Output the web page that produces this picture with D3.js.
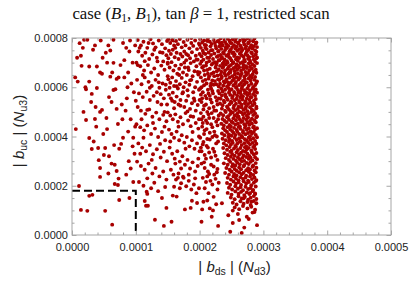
<!DOCTYPE html>
<html>
<head>
<meta charset="utf-8">
<script src="https://cdn.jsdelivr.net/npm/d3@7"></script>
<style>
body{margin:0;background:#fff;}
text{font-family:"Liberation Sans",Arial,sans-serif;}
</style>
</head>
<body>
<svg id="chart" width="416" height="286"></svg>
<script>
// scan points, in units of 1e-6 : flat list of |b_ds|, |b_uc| pairs
let unit = 1e-6;

let sparseLeft = [9,623, 14,728, 12,779, 19,793, 24,793, 15,687, 27,684, 21,600, 22,592, 27,623, 22,467, 27,394, 31,349, 33,752, 39,684, 31,573, 39,597, 44,660, 47,655, 41,353, 42,304, 44,272, 36,471, 44,500, 47,508, 54,475, 52,353, 50,325, 14,102, 24,98, 27,159, 32,163, 52,98, 63,42, 74,142, 90,150, 11,199, 44,236, 67,207, 73,229, 72,203, 70,260, 67,285, 66,365, 74,350, 72,451, 70,512, 65,589, 68,592, 70,634, 73,640, 60,643, 63,660, 65,699, 53,740, 60,749, 65,793, 5,640, 8,720, 17,760, 36,770, 45,790, 48,720, 55,700, 57,770, 80,780, 85,760, 90,745, 95,700, 88,660, 82,640, 93,615, 97,580, 86,555, 78,530, 84,505, 92,470, 99,440, 88,420, 80,395, 77,370, 95,360, 98,330, 89,300, 92,270, 85,245, 96,215, 58,560, 62,540, 55,430, 49,410, 38,440, 34,380, 58,320, 62,290, 57,250, 30,540, 37,520, 18,500, 6,430, 82,710, 76,690, 91,790, 99,770, 87,600, 79,470, 96,395];

let midLeft = [103,792, 108,770, 112,785, 118,760, 123,795, 127,778, 131,762, 136,790, 141,775, 146,758, 149,788, 104,745, 110,728, 115,740, 121,715, 126,733, 133,720, 138,742, 143,705, 148,730, 101,700, 107,685, 113,668, 119,690, 124,660, 129,676, 135,650, 140,688, 145,671, 150,645, 102,630, 109,612, 114,640, 120,622, 125,605, 131,630, 137,598, 142,615, 147,590, 105,575, 111,560, 117,582, 122,548, 128,565, 134,540, 139,572, 144,555, 149,530, 103,520, 108,505, 115,492, 121,510, 126,480, 132,497, 137,470, 143,488, 148,462, 101,450, 107,438, 113,425, 118,445, 124,410, 130,432, 135,398, 141,418, 146,385, 104,372, 110,355, 116,340, 122,365, 127,328, 133,348, 139,315, 144,338, 149,300, 102,298, 108,280, 114,265, 120,290, 126,250, 131,272, 137,238, 143,258, 148,225, 105,215, 112,200, 118,230, 124,190, 129,212, 135,178, 141,150, 146,195, 117,176, 118,167, 114,138, 116,119, 119,119, 144,37, 130,62, 148,110, 106,760, 134,705, 122,598, 140,530, 109,470, 127,455, 145,440, 112,395, 138,370, 125,305, 100,545, 147,610, 133,580, 118,508, 129,752, 142,740, 111,650, 136,620, 103,690, 150,700, 120,780, 114,706, 145,500, 107,330];

let midRight = [151,795, 154,780, 157,792, 160,770, 163,788, 166,775, 169,796, 172,762, 175,784, 178,770, 181,793, 184,758, 187,780, 190,768, 193,790, 196,755, 199,778, 152,748, 155,735, 158,752, 161,722, 164,740, 167,715, 170,735, 173,725, 176,745, 179,710, 182,730, 185,718, 188,742, 191,705, 194,728, 197,712, 200,735, 150,695, 153,680, 156,702, 159,668, 162,688, 165,655, 168,675, 171,692, 174,660, 177,680, 180,650, 183,670, 186,698, 189,645, 192,665, 195,685, 198,652, 151,632, 154,618, 157,640, 160,605, 163,625, 166,595, 169,612, 172,638, 175,600, 178,620, 181,588, 184,610, 187,630, 190,580, 193,600, 196,622, 199,590, 152,570, 155,555, 158,578, 161,540, 164,562, 167,530, 170,548, 173,575, 176,520, 179,545, 182,565, 185,512, 188,535, 191,555, 194,505, 197,528, 200,548, 150,498, 154,485, 158,470, 162,490, 166,460, 170,478, 174,450, 178,495, 182,465, 186,442, 190,480, 194,455, 198,432, 152,428, 156,410, 160,395, 164,420, 168,385, 172,405, 176,375, 180,398, 184,360, 188,385, 192,350, 196,372, 200,340, 153,355, 157,330, 161,310, 165,340, 169,298, 173,320, 177,285, 181,305, 185,270, 189,295, 193,258, 197,280, 155,265, 159,245, 163,225, 167,250, 171,210, 175,232, 179,198, 183,220, 187,185, 191,205, 195,170, 199,190, 177,104, 186,110, 156,54, 196,130, 188,139, 164,156, 158,160, 160,196, 169,190, 174,237, 166,232, 151,718, 162,760, 179,735, 195,712, 168,650, 185,628, 153,598, 174,580, 192,545, 160,515, 181,502, 199,470, 167,440, 189,418, 154,380, 178,350, 198,310, 183,245, 171,270, 193,230, 162,290, 159,790, 187,800, 176,700, 197,662, 164,604, 182,680, 157,545, 170,525, 186,482, 199,400];

let denseEdge = [201,795, 204,782, 207,790, 210,771, 213,798, 216,785, 219,776, 222,792, 225,768, 228,787, 202,760, 205,748, 208,772, 211,755, 214,741, 217,766, 220,750, 223,737, 226,758, 229,745, 203,726, 206,712, 209,735, 212,720, 215,706, 218,731, 221,715, 224,702, 227,724, 230,710, 200,772, 212,788, 224,780, 206,739, 218,750, 229,727, 203,705, 215,720, 227,700, 209,760,
  201,695, 204,680, 207,668, 210,688, 213,655, 216,675, 219,692, 222,660, 225,680, 228,648, 202,640, 205,625, 208,650, 211,615, 214,635, 217,605, 220,628, 223,645, 226,612, 229,632, 203,600, 206,685, 209,630, 212,670, 215,645, 218,615, 221,698, 224,625, 227,665, 230,603, 200,660, 211,700, 222,610, 207,608, 219,655, 226,690,
  201,595, 205,580, 209,565, 213,590, 217,550, 221,575, 225,560, 229,585, 203,540, 207,525, 211,555, 215,515, 219,538, 223,505, 227,545, 202,570, 206,510, 210,530, 214,575, 218,595, 222,520, 226,505, 230,555, 204,555, 212,500, 220,585, 228,530, 216,565,
  202,495, 206,480, 210,465, 214,490, 218,450, 222,475, 226,460, 230,485, 204,440, 208,425, 212,455, 216,415, 220,438, 224,405, 228,445, 203,470, 207,410, 211,430, 215,475, 219,495, 223,420, 227,400, 229,470, 205,455,
  201,395, 206,378, 211,362, 216,388, 221,350, 226,372, 203,340, 208,325, 213,355, 218,315, 223,338, 228,305, 205,368, 210,310, 215,335, 220,398, 225,322, 229,380, 202,355, 212,390,
  203,290, 208,272, 213,258, 218,285, 223,245, 228,268, 205,232, 210,215, 215,248, 220,205, 225,228, 230,212, 207,295, 212,238, 217,220, 222,278, 227,255,
  208,190, 214,170, 222,155, 228,185, 212,140, 226,125];

let denseUpper = [230,788, 233,799, 235,781, 239,792, 240,784, 244,797, 247,789, 248,781, 252,795, 256,786, 257,799, 260,781, 263,790, 268,796, 269,784, 271,791, 275,799, 277,783, 280,792, 284,787, 286,798, 289,782,
  231,766, 232,778, 236,770, 241,762, 242,775, 245,768, 250,779, 251,763, 254,771, 258,765, 261,777, 264,769, 266,760, 270,774, 273,766, 276,778, 279,762, 281,771, 285,767, 288,776, 290,763,
  230,747, 234,756, 237,742, 240,751, 243,759, 247,746, 249,753, 253,741, 256,757, 259,748, 262,755, 265,743, 267,751, 272,758, 274,745, 277,752, 281,741, 283,757, 287,749, 289,744,
  233,731, 235,722, 238,737, 242,728, 245,734, 246,723, 251,739, 254,727, 255,733, 259,721, 263,736, 266,729, 269,724, 272,735, 275,730, 278,722, 282,738, 284,726, 288,733, 290,721,
  231,709, 234,717, 238,702, 239,713, 243,706, 248,718, 250,709, 253,701, 257,714, 260,707, 262,719, 267,702, 270,712, 271,705, 276,716, 279,708, 280,700, 285,713, 287,704, 289,718,
  232,687, 236,696, 237,683, 241,692, 244,699, 246,684, 249,690, 252,697, 256,682, 258,693, 261,687, 264,698, 268,681, 269,691, 273,685, 277,697, 279,683, 283,692, 286,686, 290,698,
  230,672, 234,663, 236,679, 240,668, 244,675, 247,661, 249,670, 253,677, 255,665, 259,672, 262,680, 265,667, 269,674, 272,662, 274,678, 278,669, 282,676, 285,664, 288,671,
  233,651, 235,643, 239,657, 241,647, 245,654, 248,660, 251,645, 255,652, 258,641, 260,657, 264,648, 266,655, 270,643, 273,650, 276,658, 279,646, 283,653, 287,642, 289,659,
  231,629, 234,637, 238,624, 242,632, 244,621, 247,639, 252,628, 254,635, 257,622, 261,631, 263,638, 268,626, 271,633, 272,621, 277,636, 280,627, 282,639, 286,630, 290,624,
  232,614, 237,606, 239,618, 243,603, 246,611, 249,619, 253,607, 256,615, 258,601, 262,609, 265,617, 267,604, 270,612, 274,619, 277,606, 281,614, 284,601, 287,609, 289,617,
  234,594, 236,583, 240,590, 245,597, 247,585, 250,592, 254,581, 257,598, 260,589, 264,583, 266,595, 270,588, 273,580, 275,596, 279,587, 283,594, 286,582, 288,591,
  231,575, 235,567, 240,572, 241,562, 246,578, 248,569, 252,564, 255,574, 259,566, 261,579, 265,570, 268,563, 271,576, 275,568, 278,575, 280,561, 284,572, 287,565, 290,578];

let denseLower = [233,553, 238,545, 242,558, 244,549, 249,541, 251,556, 255,547, 258,553, 262,544, 264,559, 267,550, 272,543, 274,555, 278,548, 281,559, 285,545, 288,552,
  232,534, 236,527, 239,539, 243,522, 247,531, 250,538, 254,525, 257,533, 261,521, 263,537, 266,529, 271,535, 273,523, 276,532, 280,538, 283,527, 286,534, 289,521,
  235,513, 240,505, 244,518, 246,509, 249,502, 253,516, 256,507, 260,513, 262,501, 266,518, 269,508, 272,514, 275,503, 279,519, 282,510, 285,504, 289,515,
  233,494, 237,486, 241,499, 245,482, 248,491, 252,497, 255,485, 259,493, 261,481, 265,498, 268,489, 271,495, 274,484, 277,492, 281,499, 284,487, 287,494, 290,482,
  236,471, 239,464, 243,478, 246,468, 250,461, 253,474, 257,466, 259,479, 263,470, 267,462, 269,475, 273,468, 276,477, 279,463, 282,472, 286,466, 289,478,
  234,452, 238,445, 242,458, 247,447, 249,441, 252,456, 256,449, 260,453, 263,442, 265,459, 270,450, 272,444, 275,457, 278,448, 282,453, 285,441, 288,458,
  237,433, 240,425, 244,438, 248,428, 251,422, 254,435, 258,427, 261,439, 264,431, 268,423, 271,436, 274,427, 277,433, 280,421, 284,437, 287,429, 290,434,
  235,412, 239,405, 243,418, 246,408, 250,403, 253,415, 256,406, 259,419, 262,410, 266,402, 268,416, 272,409, 276,414, 279,401, 282,411, 285,418, 288,406,
  236,391, 241,385, 245,398, 247,388, 251,382, 255,395, 258,386, 262,393, 264,381, 267,397, 271,389, 274,384, 277,396, 280,387, 284,393, 287,382, 290,397,
  238,372, 242,364, 246,378, 249,367, 252,374, 256,362, 259,371, 263,378, 266,365, 270,373, 273,361, 276,376, 279,368, 283,374, 286,363, 289,371,
  237,353, 243,346, 247,357, 250,342, 254,351, 257,358, 260,345, 264,353, 268,341, 271,356, 274,348, 277,354, 281,343, 284,357, 287,349,
  239,332, 244,325, 248,338, 251,329, 255,322, 258,336, 262,327, 265,334, 269,323, 272,338, 275,330, 278,321, 282,335, 285,327, 289,333,
  241,312, 246,305, 249,318, 253,309, 257,302, 260,315, 263,307, 267,313, 270,301, 273,317, 277,309, 280,314, 283,303, 287,316, 290,308,
  238,291, 244,285, 248,297, 252,288, 256,282, 259,294, 263,287, 266,299, 270,284, 274,293, 277,288, 280,297, 284,282, 288,292,
  242,272, 247,265, 251,278, 255,268, 258,261, 262,274, 265,267, 269,279, 273,263, 276,271, 279,266, 283,277, 286,262, 289,273,
  240,252, 246,245, 250,258, 254,248, 258,242, 262,255, 266,247, 269,253, 273,241, 277,257, 280,249, 284,244, 288,255,
  244,232, 249,225, 253,238, 257,229, 261,222, 264,235, 268,228, 272,233, 276,221, 279,238, 282,227, 286,234, 289,223,
  243,211, 248,204, 253,217, 257,208, 261,214, 265,203, 269,218, 273,209, 277,215, 281,202, 285,212, 288,219,
  246,192, 251,185, 256,198, 260,188, 264,194, 268,182, 272,196, 276,187, 280,191, 284,183, 288,197,
  244,171, 250,164, 256,177, 261,168, 265,175, 270,162, 274,173, 278,166, 283,178, 287,169,
  249,152, 255,145, 261,157, 266,148, 271,155, 276,143, 280,151, 285,158, 289,146,
  252,131, 258,124, 264,137, 269,127, 275,134, 280,122, 285,138, 289,129,
  255,112, 262,105, 268,118, 275,108, 281,115, 287,103];

let lowScatter = [252,99, 283,91, 286,93, 274,74, 277,65, 262,61, 252,49, 248,13, 266,8, 235,129, 229,37, 219,74, 216,108, 221,100, 206,135, 204,104, 203,54, 279,170, 287,166, 281,135, 269,149, 260,85, 245,80, 290,40, 270,30];

// bound of the restricted region
let boxX = 0.0001;
let boxY = 0.00018;

let xTickLabels = ["0.0000", "0.0001", "0.0002", "0.0003", "0.0004", "0.0005"];
let yTickLabels = ["0.0000", "0.0002", "0.0004", "0.0006", "0.0008"];

let m = {left: 72, right: 391, top: 38, bottom: 235};
let pointColor = "#a80000";
let frameColor = "#a6a6a6";

let toPairs = (arr) => {
  let out = [];
  for (let i = 0; i < arr.length; i += 2) out.push([arr[i] * unit, arr[i + 1] * unit]);
  return out;
};

let points = [].concat(
  toPairs(sparseLeft), toPairs(midLeft), toPairs(midRight),
  toPairs(denseEdge), toPairs(denseUpper), toPairs(denseLower), toPairs(lowScatter)
);

let svg = d3.select("#chart");

let xScale = d3.scaleLinear().domain([0, 0.0005]).range([m.left, m.right]);
let yScale = d3.scaleLinear().domain([0, 0.0008]).range([m.bottom, m.top]);

svg.append("clipPath")
   .attr("id", "plotClip")
   .append("rect")
   .attr("x", m.left)
   .attr("y", m.top)
   .attr("width", m.right - m.left)
   .attr("height", m.bottom - m.top);

svg.append("g")
   .attr("clip-path", "url(#plotClip)")
   .selectAll("circle")
   .data(points)
   .enter()
   .append("circle")
   .attr("cx", (d) => xScale(d[0]))
   .attr("cy", (d) => yScale(d[1]))
   .attr("r", 1.95)
   .attr("fill", pointColor);

// dashed box
let dash = d3.line().x((d) => xScale(d[0])).y((d) => yScale(d[1]));
svg.append("path")
   .attr("d", dash([[0, boxY], [boxX, boxY], [boxX, 0]]))
   .attr("fill", "none")
   .attr("stroke", "#000")
   .attr("stroke-width", 2)
   .attr("stroke-dasharray", "8,4");

// ticks
let xMajor = d3.range(0, 6).map((i) => i * 0.0001);
let xMinor = d3.range(0, 26).map((i) => i * 0.00002).filter((d, i) => i % 5 !== 0);
let yMajor = d3.range(0, 5).map((i) => i * 0.0002);
let yMinor = d3.range(0, 17).map((i) => i * 0.00005).filter((d, i) => i % 4 !== 0);

let styleAxis = (g) => {
  g.select(".domain").remove();
  g.selectAll("line").attr("stroke", frameColor);
  g.selectAll("text").attr("fill", "#222").style("font-size", "11px");
};

let addAxis = (axisFn, scale, ticks, size, labels, pad, transform) => {
  let ax = axisFn(scale).tickValues(ticks).tickSizeInner(-size).tickSizeOuter(0).tickPadding(pad)
    .tickFormat(labels ? (d, i) => labels[i] : "");
  svg.append("g").attr("transform", transform).call(ax).call(styleAxis);
};

addAxis(d3.axisBottom, xScale, xMajor, 4.5, xTickLabels, 8, `translate(0,${m.bottom})`);
addAxis(d3.axisBottom, xScale, xMinor, 2.5, null, 0, `translate(0,${m.bottom})`);
addAxis(d3.axisTop, xScale, xMajor, 4.5, null, 0, `translate(0,${m.top})`);
addAxis(d3.axisTop, xScale, xMinor, 2.5, null, 0, `translate(0,${m.top})`);
addAxis(d3.axisLeft, yScale, yMajor, 4.5, yTickLabels, 4, `translate(${m.left},0)`);
addAxis(d3.axisLeft, yScale, yMinor, 2.5, null, 0, `translate(${m.left},0)`);
addAxis(d3.axisRight, yScale, yMajor, 4.5, null, 0, `translate(${m.right},0)`);
addAxis(d3.axisRight, yScale, yMinor, 2.5, null, 0, `translate(${m.right},0)`);

svg.append("rect")
   .attr("x", m.left)
   .attr("y", m.top)
   .attr("width", m.right - m.left)
   .attr("height", m.bottom - m.top)
   .attr("fill", "none")
   .attr("stroke", frameColor)
   .attr("stroke-width", 1);

// axis titles
let xTitle = svg.append("text")
   .attr("x", (m.left + m.right) / 2 + 3)
   .attr("y", 272)
   .attr("text-anchor", "middle")
   .style("font-size", "15px")
   .attr("fill", "#222");
xTitle.append("tspan").text("| ");
xTitle.append("tspan").style("font-style", "italic").text("b");
xTitle.append("tspan").attr("dy", 3).style("font-size", "10.5px").text("ds");
xTitle.append("tspan").attr("dy", -3).text(" | (");
xTitle.append("tspan").style("font-style", "italic").text("N");
xTitle.append("tspan").attr("dy", 3).style("font-size", "10.5px").text("d3");
xTitle.append("tspan").attr("dy", -3).text(")");

let yTitle = svg.append("text")
   .attr("transform", "translate(24,131) rotate(-90)")
   .attr("text-anchor", "middle")
   .style("font-size", "15px")
   .attr("fill", "#222");
yTitle.append("tspan").text("| ");
yTitle.append("tspan").style("font-style", "italic").text("b");
yTitle.append("tspan").attr("dy", 3).style("font-size", "10.5px").text("uc");
yTitle.append("tspan").attr("dy", -3).text(" | (");
yTitle.append("tspan").style("font-style", "italic").text("N");
yTitle.append("tspan").attr("dy", 3).style("font-size", "10.5px").text("u3");
yTitle.append("tspan").attr("dy", -3).text(")");

// title
let title = svg.append("text")
   .attr("x", 201)
   .attr("y", 19)
   .attr("text-anchor", "middle")
   .style("font-family", "'Liberation Serif', 'DejaVu Serif', serif")
   .style("font-size", "16.8px")
   .attr("fill", "#111");
title.append("tspan").text("case (");
title.append("tspan").style("font-style", "italic").text("B");
title.append("tspan").attr("dy", 3).style("font-size", "11.5px").text("1");
title.append("tspan").attr("dy", -3).text(", ");
title.append("tspan").style("font-style", "italic").text("B");
title.append("tspan").attr("dy", 3).style("font-size", "11.5px").text("1");
title.append("tspan").attr("dy", -3).text("), tan ");
title.append("tspan").style("font-style", "italic").text("β");
title.append("tspan").text(" = 1, restricted scan");
</script>
</body>
</html>
